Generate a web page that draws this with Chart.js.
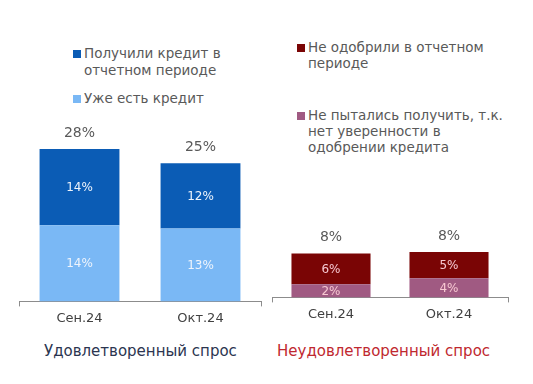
<!DOCTYPE html>
<html>
<head>
<meta charset="utf-8">
<script src="https://cdn.jsdelivr.net/npm/chart.js@4"></script>
<style>
  body { margin: 0; width: 533px; height: 384px; background: #fff; position: relative; overflow: hidden;
         font-family: "DejaVu Sans", sans-serif; }
  .box { position: absolute; }
  .legend { position: absolute; color: #595959; font-size: 13.5px; line-height: 17px; }
  .legend .sq { position: absolute; width: 8px; height: 8px; left: -11px; top: 5px; }
  .title { position: absolute; top: 342px; font-size: 15px; white-space: nowrap; }
</style>
</head>
<body>

<div class="legend" style="left:84px; top:45px;"><span class="sq" style="background:#0b5cb5"></span>Получили кредит в<br>отчетном периоде</div>
<div class="legend" style="left:84px; top:90px;"><span class="sq" style="background:#7ab8f5"></span>Уже есть кредит</div>
<div class="legend" style="left:308px; top:39px; line-height:16px;"><span class="sq" style="background:#7a0505"></span>Не одобрили в отчетном<br>периоде</div>
<div class="legend" style="left:308px; top:107px; line-height:16px;"><span class="sq" style="background:#a05a82"></span>Не пытались получить, т.к.<br>нет уверенности в<br>одобрении кредита</div>

<div class="box" style="left:18px; top:100px; width:244px; height:230px;"><canvas id="left"></canvas></div>
<div class="box" style="left:271px; top:100px; width:238px; height:226px;"><canvas id="right"></canvas></div>

<div class="title" style="left:44px; color:#2b3550;">Удовлетворенный спрос</div>
<div class="title" style="left:277px; color:#c0282f;">Неудовлетворенный спрос</div>

<script>
const months = ["Сен.24", "Окт.24"];

// удовлетворенный спрос, %
const alreadyHave = [14.0, 13.4];
const gotCredit = [14.0, 12.0];

// неудовлетворенный спрос, %
const notTried = [2.4, 3.5];
const notApproved = [5.6, 4.8];

const font = "DejaVu Sans";

// подписи внутри столбцов и сумма сверху
const barLabels = {
  id: "barLabels",
  afterDatasetsDraw(chart, args, opts) {
    const ctx = chart.ctx;
    ctx.save();
    ctx.textAlign = "center";
    ctx.textBaseline = "middle";
    chart.data.datasets.forEach((ds, i) => {
      const meta = chart.getDatasetMeta(i);
      meta.data.forEach((bar, j) => {
        const mid = (bar.y + bar.base) / 2;
        ctx.fillStyle = opts.inner;
        ctx.font = "12px " + font;
        ctx.fillText(Math.round(ds.data[j]) + "%", bar.x, mid + 1);
      });
    });
    const last = chart.getDatasetMeta(chart.data.datasets.length - 1);
    last.data.forEach((bar, j) => {
      let sum = 0;
      chart.data.datasets.forEach(ds => { sum += ds.data[j]; });
      ctx.fillStyle = "#595959";
      ctx.font = "14px " + font;
      ctx.fillText(Math.round(sum) + "%", bar.x, bar.y - 16);
    });
    ctx.restore();
  }
};

function makeChart(id, series, colors, max, pct, innerColor) {
  new Chart(document.getElementById(id), {
    type: "bar",
    data: {
      labels: months,
      datasets: series.map((s, i) => ({
        data: s,
        backgroundColor: colors[i],
        borderWidth: 0,
        categoryPercentage: 1,
        barPercentage: pct,
      })),
    },
    options: {
      responsive: true,
      maintainAspectRatio: false,
      animation: false,
      events: [],
      layout: { padding: { left: 1, right: 1 } },
      plugins: {
        legend: { display: false },
        tooltip: { enabled: false },
        barLabels: { inner: innerColor },
      },
      scales: {
        x: {
          stacked: true,
          grid: {
            display: true,
            drawOnChartArea: false,
            drawTicks: true,
            tickLength: 5,
            offset: true,
            color: c => (c.index === 1 ? "transparent" : "#8c8c8c"),
          },
          border: { display: true, color: "#8c8c8c" },
          ticks: { color: "#404040", font: { family: font, size: 13 }, padding: 4 },
        },
        y: { stacked: true, display: false, min: 0, max: max },
      },
    },
    plugins: [barLabels],
  });
}

makeChart("left", [alreadyHave, gotCredit], ["#7ab8f5", "#0b5cb5"], 37, 0.66, "#eef4fc");
makeChart("right", [notTried, notApproved], ["#a05a82", "#7a0505"], 36, 0.67, "#f7c9d2");
</script>
</body>
</html>
